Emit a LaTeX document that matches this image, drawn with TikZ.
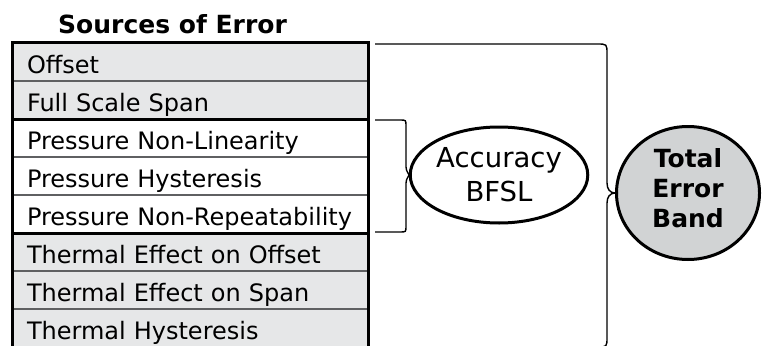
\documentclass[tikz,border=0pt]{standalone}
\usepackage{fontspec}
\setmainfont{DejaVu Sans}
\usetikzlibrary{shapes.geometric}
\definecolor{grigio}{HTML}{E6E7E8}
\definecolor{grigioscuro}{HTML}{D1D3D4}
\definecolor{linea}{HTML}{5F6062}

\begin{document}
\begin{tikzpicture}[x=1pt, y=-1pt,
    riga/.style={draw=linea, line width=1.2pt, anchor=north west, outer sep=0pt,
      minimum height=38pt, text width=326pt, inner xsep=15pt, inner ysep=0pt,
      text height=22pt, text depth=0pt, align=left, font=\fontsize{24}{28}\selectfont},
    bordo/.style={line width=3pt},
    graffa/.style={line width=1.4pt}]
  \useasboundingbox (0,0) rectangle (767,345);

  % Titolo
  \node[anchor=base west, inner sep=0pt, font=\bfseries\fontsize{25}{30}\selectfont] (tit) at (58,33.5) {Sources of Error};

  % Tabella
  \node[riga, fill=grigio] (r1) at (12,43) {Offset};
  \node[riga, fill=grigio] (r2) at (r1.south west) {Full Scale Span};
  \node[riga, fill=white] (r3) at (r2.south west) {Pressure Non-Linearity};
  \node[riga, fill=white] (r4) at (r3.south west) {Pressure Hysteresis};
  \node[riga, fill=white] (r5) at (r4.south west) {Pressure Non-Repeatability};
  \node[riga, fill=grigio] (r6) at (r5.south west) {Thermal Effect on Offset};
  \node[riga, fill=grigio] (r7) at (r6.south west) {Thermal Effect on Span};
  \node[riga, fill=grigio] (r8) at (r7.south west) {Thermal Hysteresis};
  \draw[bordo] (r1.north west) rectangle (r2.south east);
  \draw[bordo] (r3.north west) rectangle (r5.south east);
  \draw[bordo] (r6.north west) rectangle (r8.south east);

  % Ellissi
  \node[ellipse, draw, line width=3pt, fill=white, minimum width=162pt, minimum height=96pt, inner sep=0pt,
    align=center, font=\fontsize{27.5}{34}\selectfont] (acc) at (499,175) {Accuracy\\BFSL};
  \node[ellipse, draw, line width=3pt, fill=grigioscuro, minimum width=143pt, minimum height=133pt, inner sep=0pt,
    align=center, text depth=10pt, font=\bfseries\fontsize{25}{30}\selectfont] (teb) at (688,193) {Total\\Error\\Band};

  % Graffe
  \coordinate (a1) at (375,120);
  \coordinate (a2) at (375,232);
  \coordinate (b1) at (375,44);
  \coordinate (b2) at (375,347);
  \draw[graffa] (a1) -- (400,120) .. controls (406,120) .. (406,126) -- (406,167)
    .. controls (406,172) and (410,175) .. (acc.west)
    .. controls (410,175) and (406,178) .. (406,183) -- (406,226)
    .. controls (406,232) .. (400,232) -- (a2);
  \draw[graffa] (b1) -- (597,44) .. controls (607,44) .. (607,54) -- (607,183)
    .. controls (607,189) and (610,193) .. (teb.west)
    .. controls (610,193) and (607,197) .. (607,203) -- (607,337)
    .. controls (607,347) .. (597,347) -- (b2);
\end{tikzpicture}
\end{document}
